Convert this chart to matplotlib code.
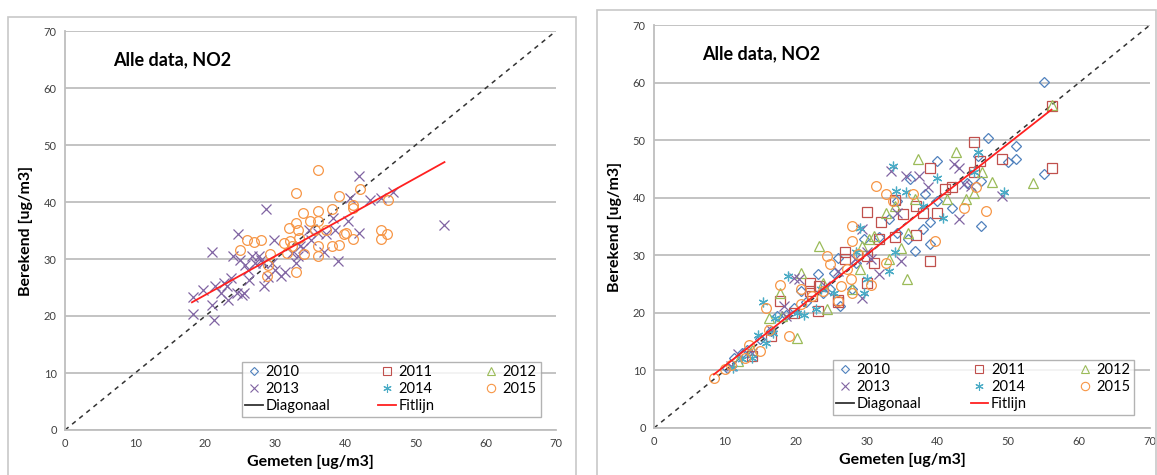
import matplotlib.pyplot as plt
from matplotlib.lines import Line2D
from matplotlib.patches import Rectangle

plt.rcParams['font.family'] = ['Lato', 'DejaVu Sans']

years = ['2010', '2011', '2012', '2013', '2014', '2015']
colors = ['#4F81BD', '#C0504D', '#9BBB59', '#8064A2', '#4BACC6', '#F79646']
markers = ['D', 's', '^', 'x', (6, 2, 0), 'o']

title = 'Alle data, NO2'
xlabel = 'Gemeten [ug/m3]'
ylabel = 'Berekend [ug/m3]'
ticks = [0, 10, 20, 30, 40, 50, 60, 70]

# left panel: only 2013 and 2015
left_x = {
    '2013': [18.2, 18.2, 19.7, 20.9, 20.9, 21.3, 21.4, 22.3, 22.6, 23.1, 23.2, 23.7, 23.9, 24.5,
             24.7, 25.0, 25.3, 25.5, 25.6, 26.1, 26.3, 26.6, 27.1, 27.6, 27.9, 28.2, 28.4, 28.7,
             29.0, 29.5, 29.8, 30.0, 30.8, 31.3, 32.4, 32.9, 33.2, 33.5, 34.0, 34.8, 35.1, 36.1,
             36.9, 37.2, 38.2, 38.5, 38.9, 40.3, 40.6, 41.9, 41.9, 43.5, 45.1, 46.7, 54.1],
    '2015': [25.0, 26.0, 27.0, 28.0, 28.8, 29.2, 31.2, 31.6, 32.0, 32.1, 32.4, 32.9, 33.0, 33.0,
             33.2, 33.4, 34.0, 34.1, 34.9, 35.6, 36.0, 36.0, 36.0, 36.1, 36.0, 37.2, 38.0, 38.0,
             39.0, 39.0, 39.8, 40.1, 41.1, 41.0, 41.1, 42.0, 45.0, 45.0, 45.9, 46.1, 29.0],
}
left_y = {
    '2013': [23.3, 20.3, 24.6, 31.2, 22.0, 19.3, 25.3, 24.0, 25.8, 25.3, 22.8, 26.7, 30.5, 24.0,
             34.3, 29.9, 23.7, 24.0, 29.0, 28.1, 26.4, 30.5, 29.3, 30.5, 29.9, 29.3, 25.3, 38.8,
             26.9, 29.3, 33.4, 28.1, 27.1, 27.8, 31.0, 29.3, 30.5, 32.2, 31.9, 35.1, 33.4, 34.6,
             31.3, 34.3, 37.2, 35.1, 29.6, 36.6, 40.7, 44.5, 34.6, 40.4, 40.7, 41.7, 36.0],
    '2015': [31.5, 33.4, 32.9, 33.4, 27.1, 30.8, 32.8, 31.0, 35.4, 33.1, 32.2, 27.7, 36.4, 41.6,
             35.1, 33.7, 38.1, 30.8, 36.6, 35.1, 45.7, 38.4, 36.6, 32.2, 30.6, 35.1, 38.7, 32.2,
             32.5, 41.1, 34.3, 34.6, 33.5, 39.0, 39.5, 42.3, 35.1, 33.5, 34.3, 40.4, 29.0],
}
left_fit_x = [18.1, 54.1]
left_fit_y = [22.4, 47.0]

# right panel: all years
right_x = {
    '2010': [55.1, 55.1, 47.1, 51.1, 51.1, 50.0, 46.1, 46.1, 39.9, 38.2, 37.9, 39.0, 39.0, 36.9,
             36.1, 34.3, 34.3, 35.8, 31.7, 42.1, 44.2, 40.0, 25.9, 25.4, 23.1, 23.8, 24.9, 20.7,
             19.7, 18.6, 17.3, 16.5, 15.0, 13.1, 11.3, 10.3, 28.5, 29.6, 33.2, 21.5, 26.2, 28.0,
             12.4, 45.7],
    '2011': [56.1, 56.1, 49.1, 45.1, 45.1, 46.0, 42.1, 41.1, 39.0, 39.0, 40.0, 37.9, 37.0, 37.0,
             35.1, 34.0, 34.0, 32.1, 31.7, 30.1, 31.1, 30.1, 30.1, 27.0, 27.0, 25.9, 25.9, 23.1,
             22.0, 22.0, 22.3, 17.8, 23.3, 19.7, 13.9, 16.5],
    '2012': [56.1, 53.5, 47.7, 46.3, 42.6, 45.2, 44.1, 41.3, 37.3, 36.9, 35.8, 35.7, 34.8, 33.2,
             32.7, 31.1, 30.4, 29.3, 29.1, 28.0, 23.3, 20.7, 17.8, 16.3, 18.0, 24.4, 20.2, 13.9,
             11.8, 23.8, 34.0],
    '2013': [43.0, 43.1, 49.1, 42.4, 37.4, 35.6, 33.5, 34.3, 34.8, 29.3, 29.3, 31.8, 30.6, 25.9,
             24.1, 20.5, 19.7, 18.4, 18.6, 13.9, 11.8, 10.8, 44.7, 38.7, 43.7, 16.5, 30.1, 28.3],
    '2014': [45.7, 49.4, 40.8, 40.0, 33.8, 34.2, 35.6, 33.1, 34.0, 29.1, 29.6, 30.1, 28.5, 22.8,
             21.2, 18.9, 15.4, 17.1, 14.7, 13.9, 12.4, 11.1, 15.8, 45.2, 37.9, 25.4, 20.2, 16.8,
             23.6],
    '2015': [8.5, 10.0, 10.8, 12.9, 13.4, 14.9, 15.8, 17.8, 20.7, 20.7, 22.3, 23.8, 24.4, 24.9,
             26.4, 27.2, 27.8, 28.0, 27.9, 28.0, 30.6, 31.4, 32.7, 32.7, 33.8, 36.6, 39.7, 43.7,
             46.8, 45.5, 16.3, 19.1, 25.9, 28.8],
}
right_y = {
    '2010': [60.1, 44.1, 50.3, 49.0, 46.8, 46.2, 42.9, 35.1, 46.3, 40.6, 34.5, 35.8, 31.9, 30.7,
             43.2, 39.4, 33.9, 32.8, 33.1, 38.3, 42.6, 39.4, 29.6, 27.0, 26.7, 23.5, 24.1, 23.8,
             20.9, 19.7, 19.4, 16.8, 15.4, 13.6, 12.2, 10.4, 28.7, 32.8, 36.3, 21.8, 21.2, 24.1,
             13.1, 47.3],
    '2011': [55.9, 45.2, 46.8, 49.7, 44.4, 46.4, 41.8, 41.5, 45.1, 29.0, 37.4, 37.4, 38.6, 33.6,
             37.1, 39.6, 33.1, 35.7, 32.9, 37.5, 28.7, 29.9, 25.2, 30.5, 29.3, 22.3, 21.8, 20.3,
             25.2, 23.8, 22.9, 22.0, 24.7, 20.0, 12.5, 16.0],
    '2012': [56.1, 42.6, 42.7, 44.4, 48.0, 40.9, 39.7, 39.7, 46.7, 39.7, 33.9, 25.8, 31.3, 29.3,
             37.4, 33.4, 32.9, 31.6, 27.7, 24.1, 31.6, 27.0, 23.5, 19.1, 19.4, 20.6, 15.7, 13.6,
             11.6, 25.2, 38.6],
    '2013': [45.2, 36.3, 40.3, 45.8, 43.8, 43.8, 44.7, 37.4, 29.0, 22.6, 34.5, 26.7, 29.3, 27.3,
             24.7, 25.8, 26.1, 21.2, 19.4, 13.1, 12.8, 10.7, 42.1, 41.8, 42.3, 17.1, 30.5, 29.3],
    '2014': [48.0, 41.0, 36.5, 43.5, 45.5, 41.2, 41.0, 27.3, 30.5, 34.8, 23.5, 25.8, 30.5, 20.6,
             19.7, 26.4, 21.8, 19.1, 16.2, 12.2, 11.9, 10.4, 14.8, 44.4, 38.6, 23.5, 20.0, 16.5,
             24.1],
    '2015': [8.6, 10.2, 11.0, 12.2, 14.5, 13.3, 20.9, 24.9, 21.5, 24.1, 22.9, 23.8, 29.9, 28.4,
             24.7, 27.6, 25.8, 23.5, 32.5, 35.1, 24.9, 42.1, 40.6, 28.7, 39.4, 40.6, 32.5, 38.3,
             37.7, 41.8, 17.1, 16.0, 22.0, 30.2],
}
right_fit_x = [8.45, 56.1]
right_fit_y = [9.3, 55.3]

fig = plt.figure(figsize=(11.57, 4.75), dpi=100)

# chart area borders (like Excel)
fig.add_artist(Rectangle((8 / 1157, -0.05), 568 / 1157, 1 - 17 / 475 + 0.05, transform=fig.transFigure,
                         fill=False, edgecolor='#C8C8C8', lw=1.2))
fig.add_artist(Rectangle((597 / 1157, -0.05), 0.999 - 597 / 1157, 1 - 10 / 475 + 0.05, transform=fig.transFigure,
                         fill=False, edgecolor='#C8C8C8', lw=1.2))


def is_line_marker(m):
    return m == 'x' or isinstance(m, tuple)


def draw_panel(ax, xs, ys, fit_x, fit_y):
    ax.set_xlim(0, 70)
    ax.set_ylim(0, 70)
    ax.set_xticks(ticks)
    ax.set_yticks(ticks)
    ax.grid(axis='y', color='#BEBEBE', lw=1.3)
    ax.set_axisbelow(True)
    for s in ['top', 'right']:
        ax.spines[s].set_visible(False)
    for s in ['left', 'bottom']:
        ax.spines[s].set_color('#BEBEBE')
        ax.spines[s].set_linewidth(1.3)
    ax.tick_params(length=0, labelsize=8, labelcolor='#404040', pad=6)

    ax.plot([0, 70], [0, 70], color='#333333', ls=(0, (3, 3)), lw=1.1, zorder=2)
    for yr, c, m in zip(years, colors, markers):
        if yr not in xs:
            continue
        if is_line_marker(m):
            ax.plot(xs[yr], ys[yr], ls='none', marker=m, color=c, ms=7,
                    mew=0.9, zorder=3)
        else:
            ax.plot(xs[yr], ys[yr], ls='none', marker=m, mfc='none', mec=c,
                    ms=5 if m == 'D' else 7, mew=0.9, zorder=3)
    ax.plot(fit_x, fit_y, color='#FF2020', lw=1.3, zorder=4)

    ax.text(6.8, 65, title, fontsize=13, fontweight='bold', va='center', ha='left')
    ax.set_xlabel(xlabel, fontsize=11.5, fontweight='bold', labelpad=4)
    ax.set_ylabel(ylabel, fontsize=11.5, fontweight='bold', labelpad=8)

    handles = {}
    for yr, c, m in zip(years, colors, markers):
        if is_line_marker(m):
            handles[yr] = Line2D([], [], ls='none', marker=m, color=c, ms=6, mew=0.8)
        else:
            handles[yr] = Line2D([], [], ls='none', marker=m, mfc='none', mec=c,
                                 ms=4.5 if m == 'D' else 6, mew=0.8)
    h_diag = Line2D([], [], color='#333333', lw=1.3)
    h_fit = Line2D([], [], color='#FF2020', lw=1.3)
    order = [handles['2010'], handles['2013'], h_diag,
             handles['2011'], handles['2014'], h_fit,
             handles['2012'], handles['2015']]
    labels = ['2010', '2013', 'Diagonaal', '2011', '2014', 'Fitlijn', '2012', '2015']
    leg = ax.legend(order, labels, ncol=3, loc='lower left', bbox_to_anchor=(25.2 / 70, 2.3 / 70, 42.6 / 70, 10.6 / 70),
                    mode='expand', fontsize=10.5, frameon=True, fancybox=False, handlelength=1.2,
                    handletextpad=0.2, borderpad=0.25, labelspacing=0.2, columnspacing=1.0,
                    borderaxespad=0)
    leg.get_frame().set_edgecolor('#A0A0A0')
    leg.get_frame().set_linewidth(1.0)


ax1 = fig.add_axes([65 / 1157, 1 - 430 / 475, 491 / 1157, 399 / 475])
draw_panel(ax1, left_x, left_y, left_fit_x, left_fit_y)

ax2 = fig.add_axes([654 / 1157, 1 - 428 / 475, 496 / 1157, 403 / 475])
draw_panel(ax2, right_x, right_y, right_fit_x, right_fit_y)

fig.savefig('out.png', dpi=100)
